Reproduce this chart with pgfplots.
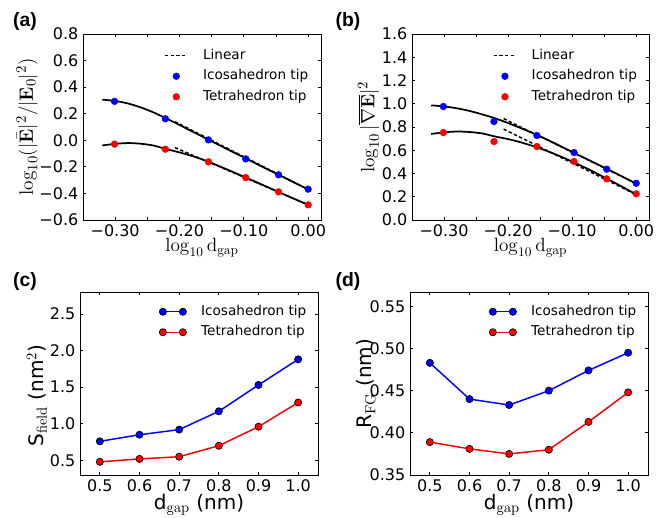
\documentclass[border=0pt]{standalone}
\usepackage[no-math]{fontspec}
\setmainfont{DejaVu Sans}
\newfontfamily\panelfont{Liberation Sans}
\usepackage{pgfplots}
\pgfplotsset{compat=1.18}

\definecolor{mblue}{RGB}{0,0,255}
\definecolor{mred}{RGB}{255,0,0}

\newcommand{\lblfont}{\fontsize{15}{18}\selectfont}
\newcommand{\mathlblfont}{\fontsize{14.5}{17}\selectfont}

\pgfplotsset{
  panel/.style={
    scale only axis,
    anchor=south west,
    axis line style={black, line width=0.7pt},
    tick style={black, line width=0.6pt},
    major tick length=2.6pt,
    tick align=inside,
    /pgf/number format/assume math mode=true,
    tick label style={font=\fontsize{12}{14}\selectfont},
    xticklabel style={inner sep=1.5pt, yshift=-1.5pt},
    legend cell align=left,
    legend style={draw=none, fill=none, anchor=north west, inner sep=0pt,
      row sep=5.7pt, column sep=11pt,
      font=\fontsize{10.2}{12}\selectfont,
      nodes={inner sep=0pt, text height=7.5pt, text depth=2.2pt}},
  },
  dot/.style={only marks, mark=*, mark size=2.5pt, color=#1, mark options={draw=#1, fill=#1}},
  fitline/.style={black, line width=1.3pt, smooth, no markers, forget plot},
  linfit/.style={black, line width=1.1pt, dash pattern=on 2.5pt off 1.8pt, no markers, forget plot},
  series/.style={color=#1, line width=1.1pt, mark=*, mark size=2.7pt,
    mark options={fill=#1, draw=black, line width=0.5pt}},
}

\begin{document}
\begin{tikzpicture}
\useasboundingbox (0,0) rectangle (492pt,387.75pt);

% (a)
\begin{axis}[panel, at={(62.25pt,222.75pt)}, width=178.5pt, height=139.5pt,
  xmin=-0.35, xmax=0.02, ymin=-0.6, ymax=0.8,
  xtick={-0.30,-0.25,-0.20,-0.15,-0.10,-0.05,0},
  xticklabels={−0.30,,−0.20,,−0.10,,0.00},
  ytick={-0.6,-0.4,-0.2,0,0.2,0.4,0.6,0.8},
  yticklabels={−0.6,−0.4,−0.2,0.0,0.2,0.4,0.6,0.8},
  xlabel={$\log_{10}\mathrm{d}_{\mathrm{gap}}$},
  ylabel={$\log_{10}(|\bar{\mathbf{E}}|^2/|\mathbf{E}_0|^2)$},
  every axis x label/.style={at={(axis description cs:0.5,0)}, anchor=base, yshift=-24pt, inner sep=1pt, font=\mathlblfont},
  every axis y label/.style={at={(axis description cs:0,0.5)}, xshift=-42pt, rotate=90, anchor=center, inner sep=1pt, font=\lblfont},
  legend style={at={(axis description cs:0.34,1)}, yshift=-11.25pt},
]
\addlegendimage{black, line width=1.1pt, dash pattern=on 2.5pt off 1.8pt}
\addlegendentry{Linear}
\addplot[dot=mblue] coordinates {
  (-0.301,0.293) (-0.222,0.162) (-0.155,0.003) (-0.097,-0.140) (-0.046,-0.260) (0,-0.368)
};
\addlegendentry{Icosahedron tip}
\addplot[dot=mred] coordinates {
  (-0.301,-0.029) (-0.222,-0.067) (-0.155,-0.162) (-0.097,-0.281) (-0.046,-0.388) (0,-0.486)
};
\addlegendentry{Tetrahedron tip}
\addplot[linfit] coordinates {(-0.207,0.140) (0,-0.370)};
\addplot[linfit] coordinates {(-0.207,-0.055) (0,-0.486)};
\addplot[fitline] coordinates {
  (-0.32,0.306) (-0.30,0.296) (-0.28,0.277) (-0.26,0.247) (-0.24,0.209) (-0.22,0.163)
  (-0.20,0.115) (-0.18,0.066) (-0.16,0.017) (-0.14,-0.032) (-0.12,-0.081) (-0.10,-0.129)
  (-0.08,-0.178) (-0.06,-0.226) (-0.04,-0.274) (-0.02,-0.322) (0,-0.370)
};
\addplot[fitline] coordinates {
  (-0.32,-0.039) (-0.30,-0.027) (-0.28,-0.021) (-0.26,-0.026) (-0.24,-0.040) (-0.22,-0.067)
  (-0.20,-0.091) (-0.18,-0.119) (-0.16,-0.152) (-0.14,-0.191) (-0.12,-0.232) (-0.10,-0.274)
  (-0.08,-0.316) (-0.06,-0.359) (-0.04,-0.402) (-0.02,-0.444) (0,-0.486)
};
\end{axis}

% (b)
\begin{axis}[panel, at={(309pt,222.75pt)}, width=177.75pt, height=139.5pt,
  xmin=-0.35, xmax=0.02, ymin=0, ymax=1.6,
  xtick={-0.30,-0.25,-0.20,-0.15,-0.10,-0.05,0},
  xticklabels={−0.30,,−0.20,,−0.10,,0.00},
  ytick={0,0.2,0.4,0.6,0.8,1.0,1.2,1.4,1.6},
  yticklabels={0.0,0.2,0.4,0.6,0.8,1.0,1.2,1.4,1.6},
  xlabel={$\log_{10}\mathrm{d}_{\mathrm{gap}}$},
  ylabel={$\log_{10}|\overline{\nabla\mathbf{E}}|^2$},
  every axis x label/.style={at={(axis description cs:0.5,0)}, anchor=base, yshift=-24pt, inner sep=1pt, font=\mathlblfont},
  every axis y label/.style={at={(axis description cs:0,0.5)}, xshift=-32.6pt, rotate=90, anchor=center, inner sep=1pt, font=\lblfont},
  legend style={at={(axis description cs:0.34,1)}, yshift=-11.25pt},
]
\addlegendimage{black, line width=1.1pt, dash pattern=on 2.5pt off 1.8pt}
\addlegendentry{Linear}
\addplot[dot=mblue] coordinates {
  (-0.301,0.976) (-0.222,0.847) (-0.155,0.727) (-0.097,0.580) (-0.046,0.437) (0,0.316)
};
\addlegendentry{Icosahedron tip}
\addplot[dot=mred] coordinates {
  (-0.301,0.752) (-0.222,0.675) (-0.155,0.632) (-0.097,0.503) (-0.046,0.354) (0,0.225)
};
\addlegendentry{Tetrahedron tip}
\addplot[linfit] coordinates {(-0.207,0.872) (0,0.313)};
\addplot[linfit] coordinates {(-0.207,0.782) (0,0.218)};
\addplot[fitline] coordinates {
  (-0.32,0.986) (-0.30,0.977) (-0.28,0.961) (-0.26,0.938) (-0.24,0.908) (-0.22,0.874)
  (-0.20,0.834) (-0.18,0.790) (-0.16,0.744) (-0.14,0.694) (-0.12,0.640) (-0.10,0.586)
  (-0.08,0.532) (-0.06,0.478) (-0.04,0.424) (-0.02,0.369) (0,0.313)
};
\addplot[fitline] coordinates {
  (-0.32,0.740) (-0.30,0.754) (-0.28,0.761) (-0.26,0.757) (-0.24,0.744) (-0.22,0.718)
  (-0.20,0.696) (-0.18,0.668) (-0.16,0.634) (-0.14,0.595) (-0.12,0.551) (-0.10,0.503)
  (-0.08,0.451) (-0.06,0.396) (-0.04,0.339) (-0.02,0.280) (0,0.220)
};
\end{axis}

% (c)
\begin{axis}[panel, at={(60pt,31.5pt)}, width=178.5pt, height=137.25pt,
  xmin=0.45, xmax=1.05, ymin=0.3, ymax=2.8,
  xtick={0.5,0.6,0.7,0.8,0.9,1.0},
  xticklabels={0.5,0.6,0.7,0.8,0.9,1.0},
  ytick={0.5,1.0,1.5,2.0,2.5},
  yticklabels={0.5,1.0,1.5,2.0,2.5},
  xlabel={d$_{\mathrm{gap}}$ (nm)},
  ylabel={S$_{\mathrm{field}}$ (nm$^2$)},
  every axis x label/.style={at={(axis description cs:0.5,0)}, anchor=base, yshift=-26pt, inner sep=1pt, font=\lblfont},
  every axis y label/.style={at={(axis description cs:0,0.5)}, xshift=-32.25pt, yshift=-9pt, rotate=90, anchor=center, inner sep=1pt, font=\lblfont},
  legend image code/.code={\draw[#1] plot coordinates {(0pt,0pt) (15pt,0pt)};},
  legend style={at={(axis description cs:0.332,1)}, yshift=-9.75pt},
]
\addplot[series=mblue] coordinates {
  (0.5,0.76) (0.6,0.85) (0.7,0.92) (0.8,1.17) (0.9,1.53) (1.0,1.88)
};
\addlegendentry{Icosahedron tip}
\addplot[series=mred] coordinates {
  (0.5,0.48) (0.6,0.52) (0.7,0.55) (0.8,0.70) (0.9,0.96) (1.0,1.29)
};
\addlegendentry{Tetrahedron tip}
\end{axis}

% (d)
\begin{axis}[panel, at={(307.5pt,31.5pt)}, width=178.5pt, height=137.25pt,
  xmin=0.45, xmax=1.05, ymin=0.35, ymax=0.567,
  xtick={0.5,0.6,0.7,0.8,0.9,1.0},
  xticklabels={0.5,0.6,0.7,0.8,0.9,1.0},
  ytick={0.35,0.40,0.45,0.50,0.55},
  yticklabels={0.35,0.40,0.45,0.50,0.55},
  xlabel={d$_{\mathrm{gap}}$ (nm)},
  ylabel={R$_{\mathrm{FG}}$ (nm)},
  every axis x label/.style={at={(axis description cs:0.5,0)}, anchor=base, yshift=-26pt, inner sep=1pt, font=\lblfont},
  every axis y label/.style={at={(axis description cs:0,0.5)}, xshift=-33pt, rotate=90, anchor=center, inner sep=1pt, font=\lblfont},
  legend image code/.code={\draw[#1] plot coordinates {(0pt,0pt) (15pt,0pt)};},
  legend style={at={(axis description cs:0.332,1)}, yshift=-9.75pt},
]
\addplot[series=mblue] coordinates {
  (0.5,0.483) (0.6,0.440) (0.7,0.433) (0.8,0.450) (0.9,0.474) (1.0,0.495)
};
\addlegendentry{Icosahedron tip}
\addplot[series=mred] coordinates {
  (0.5,0.389) (0.6,0.381) (0.7,0.375) (0.8,0.380) (0.9,0.413) (1.0,0.448)
};
\addlegendentry{Tetrahedron tip}
\end{axis}

\node[font=\panelfont\bfseries\fontsize{14.5}{17}\selectfont] at (18.75pt,371.25pt) {(a)};
\node[font=\panelfont\bfseries\fontsize{14.5}{17}\selectfont] at (261pt,371.25pt) {(b)};
\node[font=\panelfont\bfseries\fontsize{14.5}{17}\selectfont] at (18.75pt,176.25pt) {(c)};
\node[font=\panelfont\bfseries\fontsize{14.5}{17}\selectfont] at (261pt,176.25pt) {(d)};
\end{tikzpicture}
\end{document}
